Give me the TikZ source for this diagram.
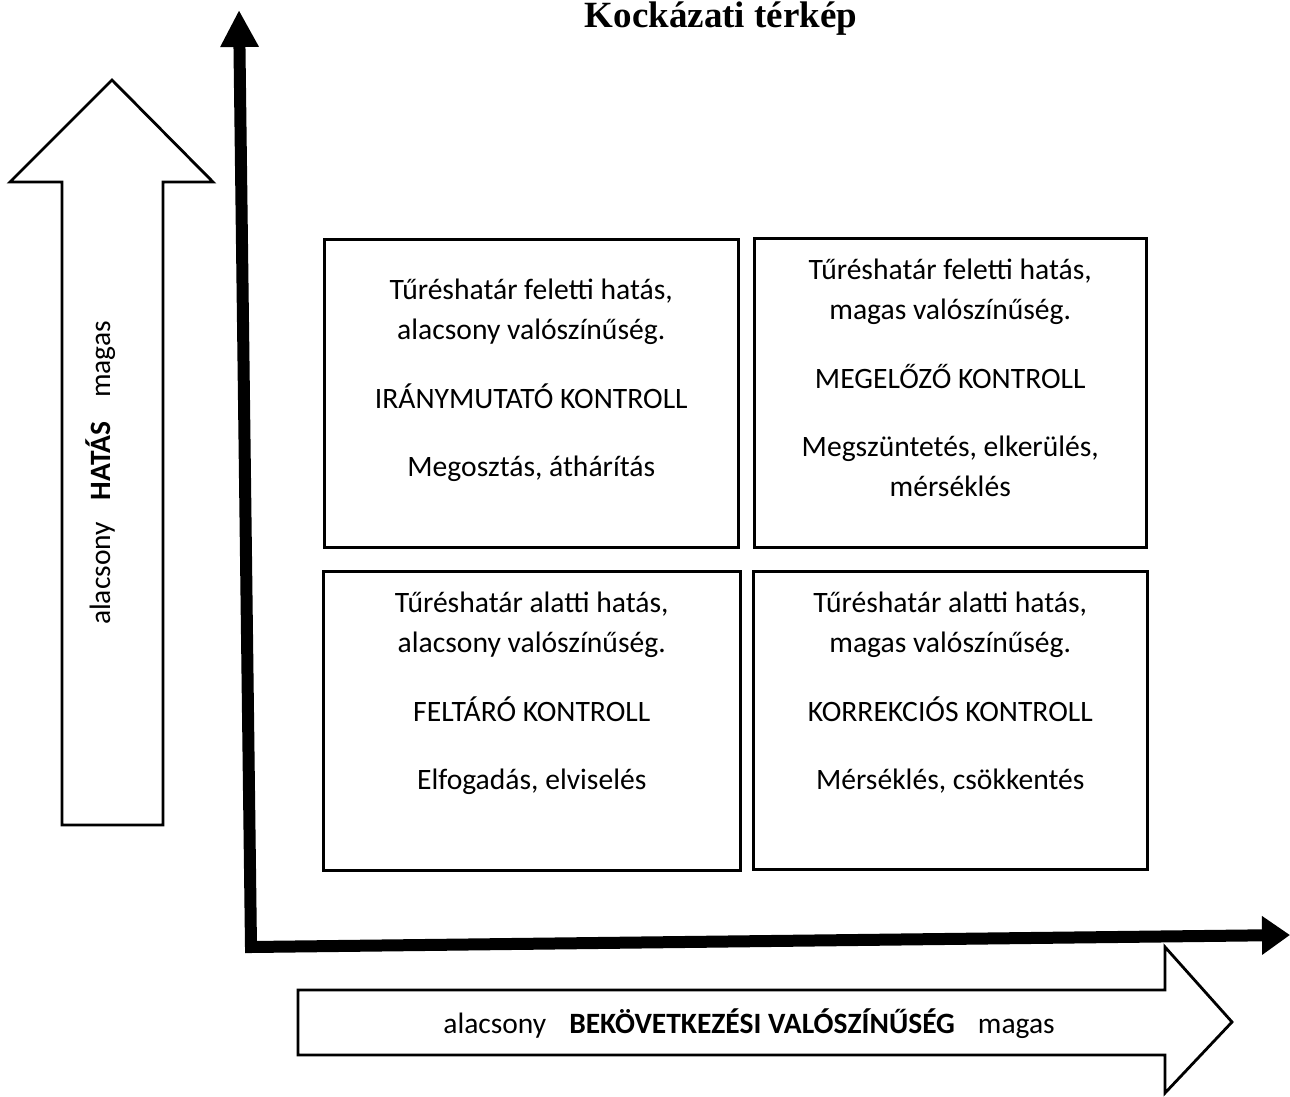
\documentclass[tikz,border=0pt]{standalone}
\usepackage{fontspec}
\setmainfont{Carlito}
\newfontfamily\titlefont{Liberation Serif}
\usetikzlibrary{arrows.meta}
\begin{document}
\begin{tikzpicture}[x=1pt,y=-1pt,
  cell/.style={draw=black, line width=2.5pt, anchor=north west, inner sep=0pt},
  celltext/.style={anchor=base, inner sep=0pt, font=\fontsize{29.6}{40}\selectfont},
  hollow/.style={draw=black, line width=2.8pt, line join=miter},
  axis/.style={line width=12pt, line join=miter, {Triangle[width=36pt,length=37pt]}-{Triangle[width=37pt,length=28pt]}},
  lbl/.style={inner sep=0pt, anchor=base, font=\fontsize{29.5}{35}\selectfont}]
\useasboundingbox[fill=white] (0,0) rectangle (1290,1097);

% title
\node[inner sep=0pt, anchor=base, font=\titlefont\bfseries\fontsize{37}{40}\selectfont] (title) at (721,28) {Kockázati térkép};

% axes
\coordinate (ytip) at (239,10);
\coordinate (origin) at (251,947);
\coordinate (xtip) at (1290,935);
\draw[axis] (ytip) -- (origin) -- (xtip);

% hollow arrows
\draw[hollow] (62,825) -- (62,182) -- (10,182) -- (112,80) -- (213,182) -- (163,182) -- (163,825) -- cycle;
\draw[hollow] (298,990) -- (1165,990) -- (1165,947) -- (1232,1022) -- (1165,1093) -- (1165,1055) -- (298,1055) -- cycle;

\node[lbl, rotate=90] (hatas) at (110,473) {alacsony\hspace{22pt}\textbf{HATÁS}\hspace{24pt}magas};
\node[lbl] (valsz) at (749,1033) {alacsony\hspace{23pt}\textbf{BEKÖVETKEZÉSI VALÓSZÍNŰSÉG}\hspace{23pt}magas};

% cells
\node[cell, minimum width=414pt, minimum height=308pt] (tl) at (323,238) {};
\node[cell, minimum width=392pt, minimum height=309pt] (tr) at (753,237) {};
\node[cell, minimum width=417pt, minimum height=299pt] (bl) at (322,570) {};
\node[cell, minimum width=394pt, minimum height=298pt] (br) at (752,570) {};

\node[celltext] (tlt) at ([yshift=-61pt]tl.north) {\begin{tabular}[t]{@{}c@{}}Tűréshatár feletti hatás,\\ alacsony valószínűség.\\[29pt] IRÁNYMUTATÓ KONTROLL\\[28pt] Megosztás, áthárítás\end{tabular}};
\node[celltext] (trt) at ([yshift=-42pt]tr.north) {\begin{tabular}[t]{@{}c@{}}Tűréshatár feletti hatás,\\ magas valószínűség.\\[29pt] MEGELŐZŐ KONTROLL\\[28pt] Megszüntetés, elkerülés,\\ mérséklés\end{tabular}};
\node[celltext] (blt) at ([yshift=-42pt]bl.north) {\begin{tabular}[t]{@{}c@{}}Tűréshatár alatti hatás,\\ alacsony valószínűség.\\[29pt] FELTÁRÓ KONTROLL\\[28pt] Elfogadás, elviselés\end{tabular}};
\node[celltext] (brt) at ([yshift=-42pt]br.north) {\begin{tabular}[t]{@{}c@{}}Tűréshatár alatti hatás,\\ magas valószínűség.\\[29pt] KORREKCIÓS KONTROLL\\[28pt] Mérséklés, csökkentés\end{tabular}};
\end{tikzpicture}
\end{document}
